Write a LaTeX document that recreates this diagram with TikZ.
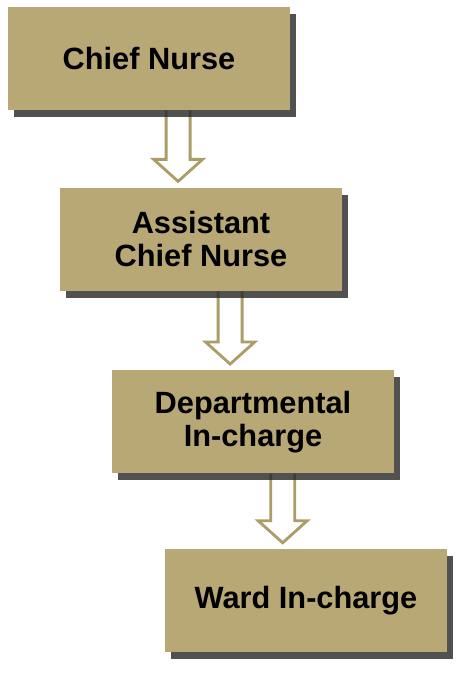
\documentclass[tikz,border=0pt]{standalone}
\usepackage{fontspec}
\setmainfont{Liberation Sans}
\usepackage{tikz}
\usetikzlibrary{calc,positioning,shadows}
\pgfdeclarelayer{background}
\pgfsetlayers{background,main}
\definecolor{khaki}{RGB}{184,168,118}
\definecolor{khakiline}{RGB}{172,156,104}

% hollow block arrow from one box down to the next
\newcommand{\downarrowbox}[2]{%
	\path let \p1=($(#1.south)!0.56!(#2.north)$), \p2=(#1.south), \p3=(#2.north) in
	[arrowline] (\x1-0.24cm,\y2) -- (\x1-0.24cm,\y3+0.56cm) -- (\x1-0.49cm,\y3+0.56cm)
	-- (\x1,\y3+0.12cm) -- (\x1+0.49cm,\y3+0.56cm) -- (\x1+0.24cm,\y3+0.56cm) -- (\x1+0.24cm,\y2);
}

\begin{document}
\begin{tikzpicture}[font=\fontsize{17.5}{19}\selectfont\bfseries]

\tikzstyle{rankbox} = [drop shadow={shadow xshift=0.12cm, shadow yshift=-0.14cm, opacity=0.8, fill=black!85}, fill=khaki, text=black, minimum width=5.64cm, minimum height=2.06cm, inner sep=0, align=center]
\tikzstyle{arrowline} = [draw=khakiline, line width=1.6pt, fill=white, line join=miter]

\useasboundingbox (0,0) rectangle (9.4,-13.62);

\node[rankbox] (chief) at (2.98,-1.17) {Chief Nurse};
\node[rankbox, below=1.54cm of chief, xshift=1.04cm] (assistant) {Assistant\\Chief Nurse};
\node[rankbox, below=1.58cm of assistant, xshift=1.04cm] (dept) {Departmental\\In-charge};
\node[rankbox, below=1.5cm of dept, xshift=1.06cm] (ward) {Ward In-charge};

\begin{pgfonlayer}{background}
	\downarrowbox{chief}{assistant}
	\downarrowbox{assistant}{dept}
	\downarrowbox{dept}{ward}
\end{pgfonlayer}

\end{tikzpicture}
\end{document}
